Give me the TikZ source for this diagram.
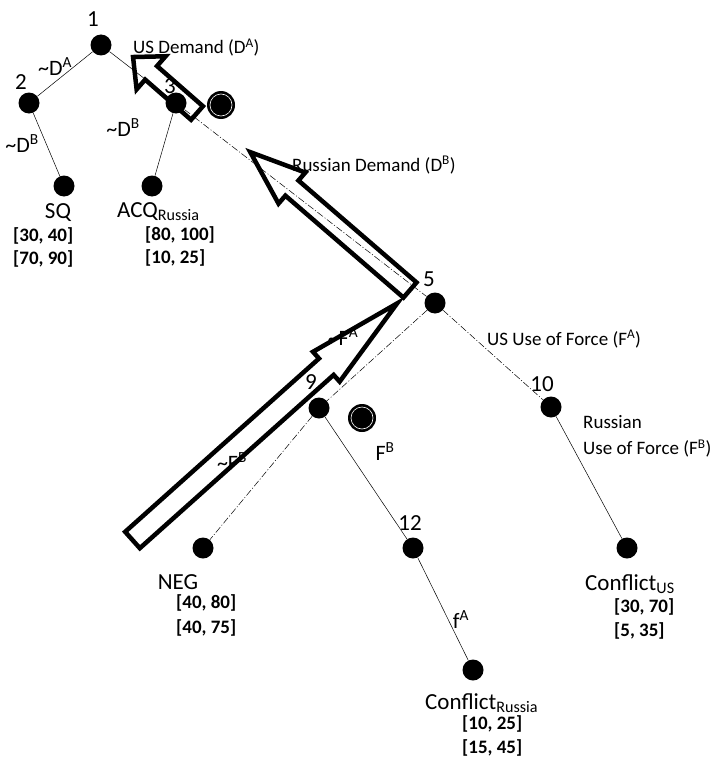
\documentclass[tikz,border=0pt]{standalone}
\usepackage{fontspec}
\setmainfont{Carlito}

\begin{document}
\begin{tikzpicture}[x=1pt, y=-1pt,
    dot/.style={circle, fill=black, inner sep=0pt, minimum size=21pt},
    ring/.style={circle, fill=black, inner sep=0pt, minimum size=28pt,
                 path picture={\draw[white, line width=0.6pt]
                   (path picture bounding box.center) circle[radius=11pt];}},
    txt/.style={inner sep=0pt, font=\fontsize{19}{23}\selectfont},
    big/.style={inner sep=0pt, font=\fontsize{23}{27}\selectfont},
    mv/.style={inner sep=0pt, font=\fontsize{22}{26}\selectfont, anchor=base},
    pay/.style={inner sep=0pt, align=left, anchor=north west,
                font=\fontsize{19}{23}\selectfont\bfseries},
    e/.style={line width=0.5pt},
    dd/.style={line width=0.5pt, dash pattern=on 7pt off 2pt on 1pt off 2pt},
    ba/.style={line width=4.5pt, line join=miter}]
  \useasboundingbox (0,0) rectangle (718,760);

  % decision nodes
  \node[dot] (n1)  at (101,45)  {};
  \node[dot] (n2)  at (29,103)  {};
  \node[dot] (n3)  at (176,103) {};
  \node[dot] (n5)  at (435,303) {};
  \node[dot] (n9)  at (319,408) {};
  \node[dot] (n10) at (551,407) {};
  \node[dot] (n12) at (413,548) {};
  % outcomes
  \node[dot] (sq)  at (64,186)  {};
  \node[dot] (acq) at (152,186) {};
  \node[dot] (neg) at (203,548) {};
  \node[dot] (cus) at (627,548) {};
  \node[dot] (cru) at (473,670) {};
  % equilibrium marks
  \node[ring] (eq1) at (221,105) {};
  \node[ring] (eq2) at (362,418) {};

  \draw[e]  (n1) -- (n2);
  \draw[e]  (n1) -- (n3);
  \draw[dd] (n3) -- (n5);
  \draw[e]  (n2) -- (sq);
  \draw[e]  (n3) -- (acq);
  \draw[dd] (n5) -- (n9);
  \draw[dd] (n5) -- (n10);
  \draw[dd] (n9) -- (neg);
  \draw[e]  (n9) -- (n12);
  \draw[e]  (n10) -- (cus);
  \draw[e]  (n12) -- (cru);

  % node numbers
  \node[big, anchor=base] (l1)  at (93,27)   {1};
  \node[big, anchor=base] (l2)  at (21,89)   {2};
  \node[big, anchor=base] (l3)  at (170,93)  {3};
  \node[big, anchor=base] (l5)  at (429,286) {5};
  \node[big, anchor=base] (l9)  at (311,389) {9};
  \node[big, anchor=base] (l10) at (542,391) {10};
  \node[big, anchor=base] (l12) at (410,530) {12};

  % moves
  \node[mv] (nda)  at (55,75)   {\textasciitilde D\textsuperscript{A}};
  \node[mv] (ndb1) at (22,152)  {\textasciitilde D\textsuperscript{B}};
  \node[mv] (ndb2) at (123,136) {\textasciitilde D\textsuperscript{B}};
  \node[txt, anchor=base west] (da) at (133,54)  {US Demand (D\textsuperscript{A})};
  \node[txt, anchor=base west] (db) at (292,171) {Russian Demand (D\textsuperscript{B})};
  \node[txt, anchor=base west] (fa) at (487,345) {US Use of Force (F\textsuperscript{A})};
  \node[txt, anchor=north west, align=left, font=\fontsize{19}{26}\selectfont] (fb)
    at (583,415) {Russian\\Use of Force (F\textsuperscript{B})};
  \node[mv] (nfa) at (343,345) {\textasciitilde F\textsuperscript{A}};
  \node[mv] (nfb) at (232,470) {\textasciitilde F\textsuperscript{B}};
  \node[mv] (fb2) at (385,460) {F\textsuperscript{B}};
  \node[mv] (fa2) at (461,628) {f\textsuperscript{A}};

  % outcomes and payoffs
  \node[big, anchor=base] (tsq) at (58,218) {SQ};
  \node[big, anchor=base west] (tacq) at (117,217) {ACQ\textsubscript{Russia}};
  \node[big, anchor=base] (tneg) at (178,589) {NEG};
  \node[big, anchor=base west] (tcus) at (585,590) {Conflict\textsubscript{US}};
  \node[big, anchor=base west] (tcru) at (425,709) {Conflict\textsubscript{Russia}};
  \node[pay] (psq)  at (13,227)  {{[30, 40]}\\{[70, 90]}};
  \node[pay] (pacq) at (145,226) {{[80, 100]}\\{[10, 25]}};
  \node[pay, font=\fontsize{19}{25}\selectfont\bfseries] (pneg) at (176,594) {{[40, 80]}\\{[40, 75]}};
  \node[pay, font=\fontsize{19}{24}\selectfont\bfseries] (pcus) at (614,598) {{[30, 70]}\\{[5, 35]}};
  \node[pay, font=\fontsize{19}{24}\selectfont\bfseries] (pcru) at (462,715) {{[10, 25]}\\{[15, 45]}};

  % backward induction arrows
  \begin{scope}[shift={(197,113)}, rotate=138.8]
    \draw[ba] (0,-9) -- (61,-9) -- (61,-22) -- (85,0) -- (61,22) -- (61,9) -- (0,9) -- cycle;
  \end{scope}
  \begin{scope}[shift={(410,290)}, rotate=139.2]
    \draw[ba] (0,-10) -- (156,-10) -- (156,-20.5) -- (211,0) -- (156,20.5) -- (156,10) -- (0,10) -- cycle;
  \end{scope}
  \begin{scope}[shift={(132.5,540)}, rotate=41.8]
    \draw[ba] (0,-11) -- (260,-11) -- (260,-20) -- (355,0) -- (260,20) -- (260,11) -- (0,11) -- cycle;
  \end{scope}
\end{tikzpicture}
\end{document}
